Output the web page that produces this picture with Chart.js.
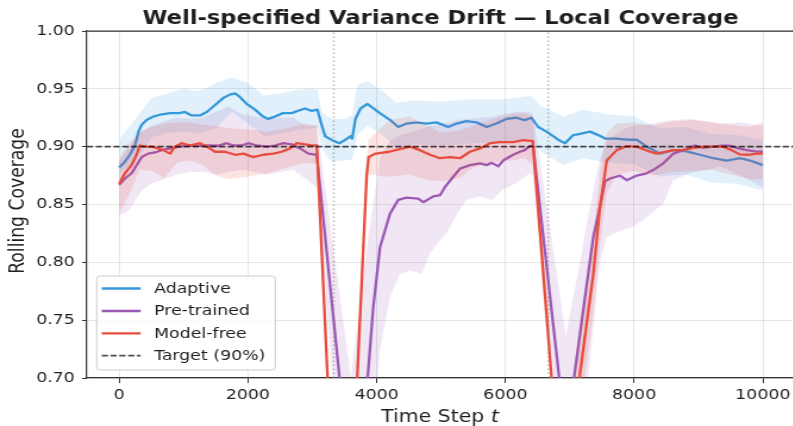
<!DOCTYPE html>
<html>
<head>
<meta charset="utf-8">
<script src="https://cdn.jsdelivr.net/npm/chart.js@4.4.1/dist/chart.umd.min.js"></script>
<style>
  html, body { margin: 0; padding: 0; background: #fff; overflow: hidden; width: 793px; height: 426px; }
  #wrap { position: absolute; left: 0; top: 0; transform-origin: 0 0; }
  canvas { display: block; }
</style>
</head>
<body>
<div id="wrap"><canvas id="chart"></canvas></div>
<script>
// ---- data -------------------------------------------------------------
const xTicks = [0, 2000, 4000, 6000, 8000, 10000];
const yTicks = [0.70, 0.75, 0.80, 0.85, 0.90, 0.95, 1.00];
const targetCoverage = 0.90;
const shiftSteps = [3333, 6667];
const seriesNames = ['Adaptive', 'Pre-trained', 'Model-free', 'Target (90%)'];

// rolling coverage, [t, mean]
const adaptive = [
  [0,0.882],[89,0.887],[166,0.893],[244,0.901],[300,0.913],[350,0.919],[425,0.923],[530,0.926],
  [660,0.928],[790,0.929],[940,0.929],[1020,0.930],[1125,0.927],[1255,0.927],[1360,0.930],[1490,0.936],
  [1615,0.942],[1720,0.945],[1800,0.946],[1875,0.943],[1980,0.937],[2110,0.932],[2235,0.926],[2315,0.924],
  [2420,0.926],[2545,0.929],[2680,0.929],[2780,0.931],[2885,0.933],[2990,0.931],[3080,0.932],[3145,0.919],
  [3200,0.909],[3330,0.905],[3420,0.903],[3515,0.906],[3595,0.909],[3620,0.907],[3670,0.924],[3750,0.933],
  [3855,0.937],[3930,0.934],[4050,0.929],[4210,0.923],[4335,0.917],[4465,0.920],[4620,0.921],[4775,0.920],
  [4930,0.921],[5110,0.917],[5240,0.920],[5395,0.922],[5550,0.921],[5710,0.917],[5860,0.920],[6015,0.924],
  [6170,0.925],[6300,0.923],[6405,0.925],[6510,0.917],[6640,0.913],[6820,0.906],[6927,0.903],[7055,0.910],
  [7160,0.911],[7315,0.913],[7444,0.910],[7548,0.907],[7730,0.907],[7885,0.906],[8040,0.906],[8196,0.900],
  [8403,0.894],[8610,0.897],[8817,0.896],[9024,0.893],[9231,0.890],[9439,0.888],[9646,0.890],[9802,0.888],
  [9999,0.884]
];
const pretrained = [
  [0,0.867],[89,0.8725],[192,0.877],[270,0.884],[350,0.891],[450,0.894],[555,0.895],[660,0.897],
  [790,0.8985],[940,0.900],[1100,0.901],[1255,0.9008],[1410,0.901],[1540,0.9008],[1670,0.903],[1775,0.901],
  [1900,0.901],[2005,0.903],[2135,0.901],[2290,0.900],[2420,0.901],[2550,0.903],[2680,0.902],[2810,0.8985],
  [2940,0.894],[3070,0.893],[3600,0.604],[3866,0.704],[3947,0.761],[4052,0.813],[4207,0.842],[4335,0.854],
  [4465,0.856],[4645,0.855],[4725,0.852],[4880,0.857],[4985,0.858],[5060,0.865],[5190,0.874],[5295,0.881],
  [5450,0.884],[5605,0.8856],[5710,0.884],[5785,0.886],[5890,0.883],[5965,0.888],[6120,0.893],[6225,0.8956],
  [6300,0.897],[6380,0.9005],[6430,0.901],[6940,0.649],[7066,0.700],[7366,0.822],[7470,0.848],[7548,0.870],
  [7626,0.8725],[7781,0.875],[7885,0.871],[8040,0.875],[8196,0.877],[8300,0.880],[8455,0.8856],[8610,0.894],
  [8765,0.897],[8945,0.901],[9075,0.899],[9230,0.900],[9360,0.9008],[9491,0.9008],[9620,0.8985],[9750,0.897],
  [9880,0.896],[9999,0.8956]
];
const modelFree = [
  [0,0.868],[89,0.877],[192,0.884],[270,0.893],[320,0.901],[425,0.900],[505,0.900],[605,0.8985],
  [685,0.897],[790,0.894],[865,0.900],[970,0.903],[1100,0.901],[1255,0.903],[1360,0.900],[1490,0.8956],
  [1645,0.8956],[1800,0.893],[1930,0.894],[2085,0.891],[2240,0.893],[2395,0.894],[2525,0.8956],[2655,0.8985],
  [2760,0.903],[2885,0.902],[3015,0.901],[3070,0.901],[3468,0.425],[3845,0.875],[3875,0.891],[3985,0.894],
  [4195,0.8956],[4405,0.8985],[4518,0.900],[4673,0.897],[4829,0.893],[4984,0.890],[5139,0.891],[5295,0.890],
  [5450,0.8956],[5606,0.8985],[5761,0.903],[5916,0.904],[6123,0.904],[6280,0.9057],[6383,0.905],[6425,0.905],
  [6880,0.587],[7160,0.704],[7366,0.790],[7470,0.848],[7575,0.888],[7730,0.897],[7885,0.9005],[8040,0.900],
  [8247,0.8956],[8350,0.894],[8480,0.8956],[8610,0.897],[8765,0.897],[8920,0.899],[9075,0.900],[9230,0.900],
  [9385,0.900],[9515,0.897],[9645,0.8933],[9775,0.893],[9905,0.894],[9999,0.894]
];

// spread across runs, [t, lower, upper]
const adaptiveBand = [
  [0,0.877,0.906],[250,0.887,0.924],[500,0.908,0.942],[750,0.912,0.946],[1000,0.913,0.950],[1250,0.911,0.948],
  [1500,0.916,0.955],[1750,0.930,0.960],[2000,0.920,0.955],[2250,0.909,0.944],[2500,0.911,0.946],[2750,0.914,0.949],
  [3000,0.916,0.950],[3080,0.916,0.949],[3150,0.898,0.930],[3300,0.887,0.924],[3500,0.888,0.924],[3620,0.889,0.927],
  [3700,0.910,0.953],[3850,0.918,0.957],[4100,0.910,0.948],[4300,0.899,0.938],[4600,0.902,0.940],[5000,0.901,0.939],
  [5500,0.903,0.941],[6000,0.903,0.941],[6400,0.906,0.944],[6550,0.896,0.935],[6900,0.884,0.926],[7200,0.890,0.932],
  [7600,0.886,0.928],[8000,0.885,0.926],[8400,0.874,0.916],[8800,0.876,0.917],[9200,0.869,0.911],[9600,0.868,0.910],
  [10000,0.862,0.906]
];
const pretrainedBand = [
  [0,0.840,0.888],[150,0.845,0.900],[350,0.862,0.913],[500,0.868,0.918],[700,0.872,0.922],[900,0.876,0.925],
  [1100,0.878,0.924],[1300,0.878,0.925],[1500,0.876,0.930],[1700,0.878,0.935],[1900,0.880,0.928],[2100,0.878,0.926],
  [2300,0.876,0.924],[2500,0.878,0.925],[2700,0.880,0.925],[2900,0.872,0.918],[3070,0.865,0.918],[3430,0.620,0.770],
  [3600,0.560,0.700],[3866,0.600,0.820],[4052,0.725,0.890],[4207,0.770,0.905],[4362,0.790,0.910],[4520,0.793,0.912],
  [4700,0.790,0.915],[4830,0.808,0.918],[4985,0.819,0.920],[5090,0.825,0.921],[5250,0.842,0.923],[5400,0.854,0.924],
  [5600,0.857,0.925],[5800,0.854,0.926],[5950,0.8625,0.928],[6150,0.868,0.930],[6380,0.877,0.930],[6430,0.875,0.928],
  [6940,0.600,0.737],[7160,0.640,0.800],[7285,0.700,0.840],[7470,0.800,0.890],[7570,0.822,0.905],[7830,0.828,0.915],
  [7990,0.831,0.918],[8200,0.839,0.919],[8455,0.851,0.922],[8610,0.871,0.923],[8870,0.877,0.924],[9130,0.880,0.922],
  [9340,0.883,0.920],[9650,0.875,0.921],[10000,0.865,0.918]
];
const modelFreeBand = [
  [0,0.843,0.890],[150,0.858,0.903],[320,0.880,0.913],[500,0.879,0.917],[700,0.873,0.920],[900,0.886,0.921],
  [1100,0.888,0.921],[1300,0.884,0.919],[1500,0.875,0.918],[1700,0.872,0.916],[2000,0.874,0.915],[2300,0.877,0.913],
  [2600,0.882,0.916],[2900,0.886,0.920],[3070,0.885,0.918],[3468,0.418,0.432],[3845,0.862,0.888],[3875,0.876,0.906],
  [4200,0.874,0.923],[4500,0.876,0.926],[4800,0.871,0.918],[5000,0.870,0.912],[5300,0.873,0.914],[5500,0.882,0.918],
  [5800,0.886,0.924],[6100,0.888,0.928],[6300,0.890,0.929],[6425,0.884,0.926],[6880,0.572,0.602],[7160,0.670,0.740],
  [7366,0.755,0.822],[7470,0.815,0.878],[7575,0.860,0.912],[7730,0.876,0.920],[8000,0.879,0.921],[8300,0.875,0.918],
  [8600,0.878,0.922],[8900,0.879,0.923],[9200,0.880,0.921],[9500,0.876,0.919],[9800,0.872,0.917],[10000,0.872,0.921]
];

// ---- styling ----------------------------------------------------------
const COLORS = { adaptive: '#3498db', pretrained: '#9b59b6', modelFree: '#e74c3c' };
const BAND = { adaptive: 'rgba(52,152,219,0.15)', pretrained: 'rgba(155,89,182,0.15)', modelFree: 'rgba(231,76,60,0.15)' };
const FONT = '"DejaVu Sans", "Liberation Sans", sans-serif';
const TEXT = '#1f1f1f';
const SPINE = '#333333';
const LINE_W = 2.3;
const TARGET_STYLE = { color: 'rgba(0,0,0,0.7)', width: 1.8, dash: [5.2, 2.2] };

// the figure is drawn narrow and widened horizontally
const STRETCH = 1.19;
const PAGE_W = 797, PAGE_H = 426;
const CW = Math.round(PAGE_W / STRETCH);
const sx = v => v / STRETCH;            // page x -> canvas x
const PLOT = { left: 87, right: 795, top: 31, bottom: 378 };

const canvas = document.getElementById('chart');
canvas.width = CW; canvas.height = PAGE_H;
canvas.style.width = CW + 'px'; canvas.style.height = PAGE_H + 'px';
document.getElementById('wrap').style.transform = 'scaleX(' + STRETCH + ')';

const meanPts = rows => rows.map(r => ({ x: r[0], y: r[1] }));
const loPts = rows => rows.map(r => ({ x: r[0], y: r[1] }));
const hiPts = rows => rows.map(r => ({ x: r[0], y: r[2] }));

const lineDs = (label, rows, color, order) => ({
  label, data: meanPts(rows), borderColor: color, borderWidth: LINE_W, pointRadius: 0,
  tension: 0, fill: false, order, borderJoinStyle: 'round', borderCapStyle: 'butt'
});
const bandDs = (rows, color, order) => ([
  { label: '', data: loPts(rows), borderWidth: 0, borderColor: 'rgba(0,0,0,0)', pointRadius: 0, fill: false, order },
  { label: '', data: hiPts(rows), borderWidth: 0, borderColor: 'rgba(0,0,0,0)', pointRadius: 0, fill: '-1', backgroundColor: color, order }
]);

const datasets = [
  ...bandDs(adaptiveBand, BAND.adaptive, 7),
  lineDs(seriesNames[0], adaptive, COLORS.adaptive, 6),
  ...bandDs(pretrainedBand, BAND.pretrained, 5),
  lineDs(seriesNames[1], pretrained, COLORS.pretrained, 4),
  ...bandDs(modelFreeBand, BAND.modelFree, 3),
  lineDs(seriesNames[2], modelFree, COLORS.modelFree, 2),
  ...shiftSteps.map(t => ({
    label: '', data: [{ x: t, y: yTicks[0] }, { x: t, y: yTicks[yTicks.length - 1] }],
    borderColor: 'rgba(128,128,128,0.55)', borderWidth: 1.5, borderDash: [1.5, 2.5],
    pointRadius: 0, fill: false, order: 1
  })),
  {
    label: seriesNames[3], data: [{ x: -500, y: targetCoverage }, { x: 10500, y: targetCoverage }],
    borderColor: TARGET_STYLE.color, borderWidth: TARGET_STYLE.width, borderDash: TARGET_STYLE.dash,
    pointRadius: 0, fill: false, order: 0
  }
];

// title, axis titles, top spine and the in-plot legend
const decorations = {
  id: 'decorations',
  afterDraw(chart) {
    const { ctx, chartArea: a } = chart;
    ctx.save();
    // top spine
    ctx.strokeStyle = SPINE; ctx.lineWidth = 1.25;
    ctx.beginPath(); ctx.moveTo(a.left, a.top); ctx.lineTo(a.right, a.top); ctx.stroke();

    // title
    ctx.fillStyle = TEXT;
    ctx.font = 'bold 19px ' + FONT;
    ctx.textAlign = 'center'; ctx.textBaseline = 'alphabetic';
    ctx.fillText('Well-specified Variance Drift \u2014 Local Coverage', sx(440.5), 23.5);

    // x label with italic t
    const fs = 17.2;
    ctx.font = fs + 'px ' + FONT;
    const w1 = ctx.measureText('Time Step ').width;
    ctx.font = 'italic ' + fs + 'px ' + FONT;
    const w2 = ctx.measureText('t').width;
    let x0 = sx(440) - (w1 + w2) / 2;
    ctx.textAlign = 'left';
    ctx.font = fs + 'px ' + FONT;
    ctx.fillText('Time Step ', x0, 421.5);
    ctx.font = 'italic ' + fs + 'px ' + FONT;
    ctx.fillText('t', x0 + w1, 421.5);

    // y label
    ctx.save();
    ctx.translate(sx(24), 201);
    ctx.rotate(-Math.PI / 2);
    ctx.font = fs + 'px ' + FONT;
    ctx.textAlign = 'center'; ctx.textBaseline = 'alphabetic';
    ctx.fillText('Rolling Coverage', 0, 0);
    ctx.restore();

    // legend
    const bx = sx(96.7), by = 276, bw = sx(275.3) - sx(96.7), bh = 94;
    ctx.beginPath();
    ctx.roundRect(bx, by, bw, bh, 3);
    ctx.fillStyle = 'rgba(255,255,255,0.8)'; ctx.fill();
    ctx.strokeStyle = '#cccccc'; ctx.lineWidth = 1; ctx.stroke();
    const rowY = [288.5, 311, 333.3, 355.7];
    const swatch = [COLORS.adaptive, COLORS.pretrained, COLORS.modelFree, TARGET_STYLE.color];
    ctx.font = '14.6px ' + FONT; ctx.textBaseline = 'middle'; ctx.textAlign = 'left';
    rowY.forEach((y, i) => {
      ctx.beginPath();
      ctx.strokeStyle = swatch[i];
      ctx.lineWidth = i === 3 ? TARGET_STYLE.width : LINE_W;
      ctx.setLineDash(i === 3 ? TARGET_STYLE.dash : []);
      ctx.moveTo(sx(101.7), y); ctx.lineTo(sx(140.7), y); ctx.stroke();
      ctx.setLineDash([]);
      ctx.fillStyle = TEXT;
      ctx.fillText(seriesNames[i], sx(154), y + 0.5);
    });
    ctx.restore();
  }
};

new Chart(canvas, {
  type: 'line',
  data: { datasets },
  plugins: [decorations],
  options: {
    responsive: false, animation: false, devicePixelRatio: 1,
    layout: { padding: { top: PLOT.top, left: 0, bottom: 0, right: CW - sx(PLOT.right) } },
    plugins: { legend: { display: false }, tooltip: { enabled: false }, title: { display: false } },
    scales: {
      x: {
        type: 'linear', min: -500, max: 10500,
        afterBuildTicks: s => { s.ticks = xTicks.map(v => ({ value: v })); },
        afterFit: s => { s.height = PAGE_H - PLOT.bottom; },
        ticks: { font: { family: FONT, size: 14.6 }, color: TEXT, padding: 3, maxRotation: 0, autoSkip: false,
                 callback: v => String(v) },
        grid: { color: 'rgba(0,0,0,0.1)', lineWidth: 1, tickColor: SPINE, tickLength: 5, tickWidth: 1 },
        border: { color: SPINE, width: 1.25 }
      },
      y: {
        type: 'linear', min: 0.70, max: 1.00,
        afterBuildTicks: s => { s.ticks = yTicks.map(v => ({ value: v })); },
        afterFit: s => { s.width = sx(PLOT.left); },
        ticks: { font: { family: FONT, size: 14.6 }, color: TEXT, padding: 6,
                 callback: v => Number(v).toFixed(2) },
        grid: { color: 'rgba(0,0,0,0.1)', lineWidth: 1, tickColor: SPINE, tickLength: 4.2, tickWidth: 1 },
        border: { color: SPINE, width: 1.25 }
      }
    }
  }
});
</script>
</body>
</html>
